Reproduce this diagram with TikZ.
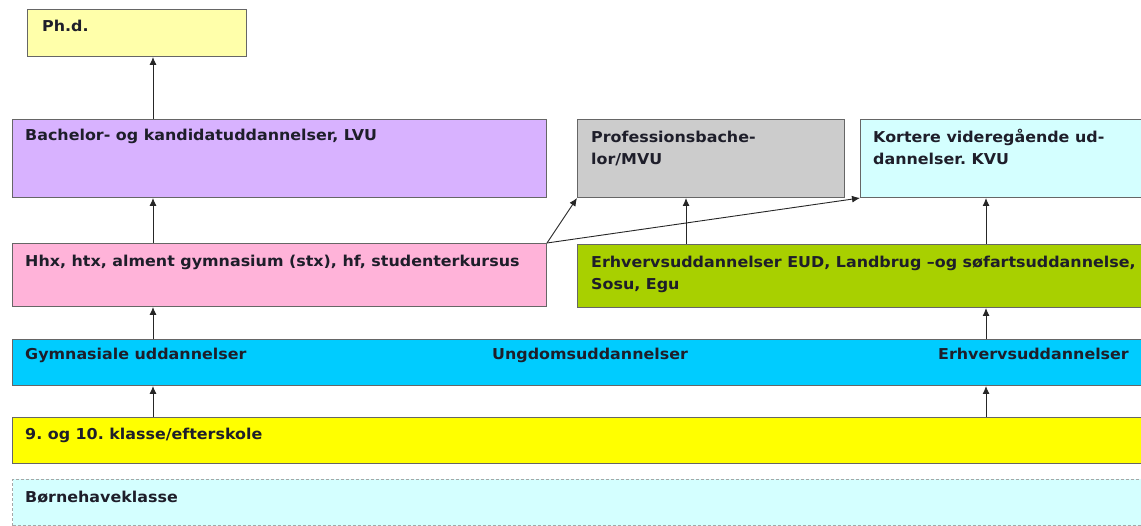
\documentclass[tikz,border=0pt]{standalone}
\usepackage{fontspec}
\setmainfont{DejaVu Sans}[BoldFeatures={FakeStretch=1.06}]
\usetikzlibrary{arrows.meta}
\frenchspacing
\definecolor{phd}{HTML}{FFFFAA}
\definecolor{lvu}{HTML}{D8B2FF}
\definecolor{mvu}{HTML}{CCCCCC}
\definecolor{kvu}{HTML}{D4FFFF}
\definecolor{gym}{HTML}{FFB3D9}
\definecolor{eud}{HTML}{A8D000}
\definecolor{ungd}{HTML}{00CCFF}
\definecolor{kls}{HTML}{FFFF00}
\definecolor{txt}{HTML}{1E1E2A}
\definecolor{edge}{HTML}{666666}
\tikzset{
  box/.style={draw=edge, line width=1pt, rectangle, inner sep=0pt, anchor=north west},
  dbox/.style={box, dashed, dash pattern=on 3pt off 2pt, draw=gray!70},
  lbl/.style={anchor=base west, inner sep=0pt, text=txt, font=\frenchspacing\bfseries\fontsize{15}{22}\selectfont, align=left},
  conn/.style={draw=black!85, line width=0.9pt, -{Latex[length=8pt,width=7pt]}}
}
\begin{document}
\begin{tikzpicture}[x=1pt,y=-1pt]
\useasboundingbox (0,0) rectangle (1141,526);
\clip (0,0) rectangle (1141,526);
% boxes
\node[box, fill=phd, minimum width=219pt, minimum height=47pt] (phd) at (27,9) {};
\node[box, fill=lvu, minimum width=534pt, minimum height=78pt] (lvu) at (12,119) {};
\node[box, fill=mvu, minimum width=267pt, minimum height=78pt] (mvu) at (577,119) {};
\node[box, fill=kvu, minimum width=290pt, minimum height=78pt] (kvu) at (860,119) {};
\node[box, fill=gym, minimum width=534pt, minimum height=63pt] (gym) at (12,243) {};
\node[box, fill=eud, minimum width=574pt, minimum height=63pt] (eud) at (577,244) {};
\node[box, fill=ungd, minimum width=1140pt, minimum height=46pt] (ungd) at (12,339) {};
\node[box, fill=kls, minimum width=1140pt, minimum height=46pt] (kls) at (12,417) {};
\node[dbox, fill=kvu, minimum width=1140pt, minimum height=46pt] (bhk) at (12,479) {};
% labels
\node[lbl] (tphd) at (42,32) {Ph.d.};
\node[lbl] (tlvu) at (25,141) {Bachelor- og kandidatuddannelser, LVU};
\node[lbl] (tmvu) at (591,165) {Professionsbache-\\lor/MVU};
\node[lbl] (tkvu) at (873,165) {Kortere videregående ud-\\dannelser. KVU};
\node[lbl] (tgym) at (25,267) {Hhx, htx, alment gymnasium (stx), hf, studenterkursus};
\node[lbl] (teud) at (591,290) {Erhvervsuddannelser EUD, Landbrug –og søfartsuddannelse,\\Sosu, Egu};
\node[lbl] (tu1) at (25,360) {Gymnasiale uddannelser};
\node[lbl] (tu2) at (492,360) {Ungdomsuddannelser};
\node[lbl] (tu3) at (938,360) {Erhvervsuddannelser};
\node[lbl] (tkls) at (25,440) {9. og 10. klasse/efterskole};
\node[lbl] (tbhk) at (25,502) {Børnehaveklasse};
% connectors
\draw[conn] (lvu.north west -| 153,0) -- (phd.south west -| 153,0);
\draw[conn] (gym.north west -| 153,0) -- (lvu.south west -| 153,0);
\draw[conn] (gym.north east) -- (mvu.south west);
\draw[conn] (gym.north east) -- (kvu.south west);
\draw[conn] (eud.north west -| 686,0) -- (mvu.south west -| 686,0);
\draw[conn] (eud.north west -| 986,0) -- (kvu.south west -| 986,0);
\draw[conn] (ungd.north west -| 153,0) -- (gym.south west -| 153,0);
\draw[conn] (ungd.north west -| 986,0) -- (eud.south west -| 986,0);
\draw[conn] (kls.north west -| 153,0) -- (ungd.south west -| 153,0);
\draw[conn] (kls.north west -| 986,0) -- (ungd.south west -| 986,0);
\end{tikzpicture}
\end{document}
